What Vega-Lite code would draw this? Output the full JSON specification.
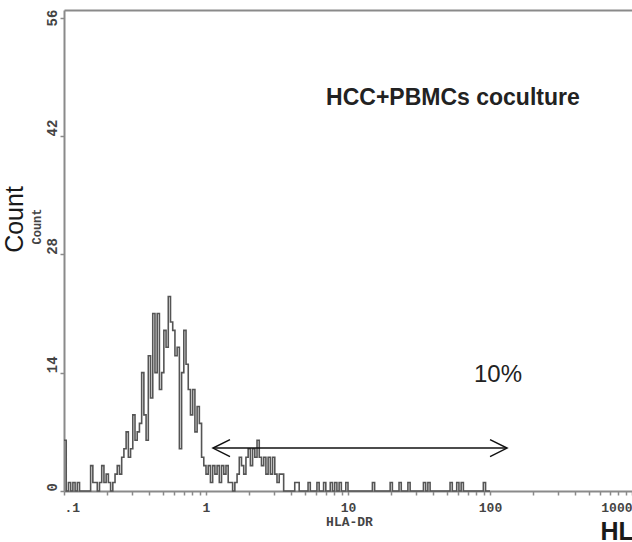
{
  "$schema": "https://vega.github.io/schema/vega-lite/v6.json",
  "width": 568,
  "height": 481,
  "autosize": {"type": "none"},
  "padding": {"left": 64, "top": 10, "right": 0, "bottom": 51},
  "background": "white",
  "config": {"view": {"stroke": null}, "axis": {"grid": false}},
  "datasets": {
    "histogram": [
      {"hla_dr": 0.1, "count": 6}, {"hla_dr": 0.10366, "count": 0}, {"hla_dr": 0.10746, "count": 1}, {"hla_dr": 0.1114, "count": 0},
      {"hla_dr": 0.11548, "count": 1}, {"hla_dr": 0.11971, "count": 0}, {"hla_dr": 0.12409, "count": 1}, {"hla_dr": 0.12864, "count": 0},
      {"hla_dr": 0.15399, "count": 3}, {"hla_dr": 0.15963, "count": 1}, {"hla_dr": 0.16548, "count": 1}, {"hla_dr": 0.17154, "count": 0},
      {"hla_dr": 0.17783, "count": 1}, {"hla_dr": 0.18434, "count": 3}, {"hla_dr": 0.1911, "count": 1}, {"hla_dr": 0.1981, "count": 2},
      {"hla_dr": 0.20535, "count": 1}, {"hla_dr": 0.21288, "count": 0}, {"hla_dr": 0.22067, "count": 1}, {"hla_dr": 0.22876, "count": 2},
      {"hla_dr": 0.23714, "count": 3}, {"hla_dr": 0.24582, "count": 2}, {"hla_dr": 0.25483, "count": 4}, {"hla_dr": 0.26416, "count": 5},
      {"hla_dr": 0.27384, "count": 7}, {"hla_dr": 0.28387, "count": 4}, {"hla_dr": 0.29427, "count": 5}, {"hla_dr": 0.30505, "count": 9},
      {"hla_dr": 0.31623, "count": 6}, {"hla_dr": 0.32781, "count": 7}, {"hla_dr": 0.33982, "count": 8}, {"hla_dr": 0.35227, "count": 14},
      {"hla_dr": 0.36517, "count": 9}, {"hla_dr": 0.37855, "count": 6}, {"hla_dr": 0.39242, "count": 16}, {"hla_dr": 0.40679, "count": 11},
      {"hla_dr": 0.4217, "count": 21}, {"hla_dr": 0.43714, "count": 14}, {"hla_dr": 0.45316, "count": 21}, {"hla_dr": 0.46976, "count": 12},
      {"hla_dr": 0.48697, "count": 14}, {"hla_dr": 0.50481, "count": 19}, {"hla_dr": 0.5233, "count": 17}, {"hla_dr": 0.54247, "count": 23},
      {"hla_dr": 0.56234, "count": 20}, {"hla_dr": 0.58294, "count": 19}, {"hla_dr": 0.6043, "count": 16}, {"hla_dr": 0.62643, "count": 17},
      {"hla_dr": 0.64938, "count": 5}, {"hla_dr": 0.67317, "count": 14}, {"hla_dr": 0.69783, "count": 19}, {"hla_dr": 0.72339, "count": 15},
      {"hla_dr": 0.74989, "count": 12}, {"hla_dr": 0.77736, "count": 9}, {"hla_dr": 0.80584, "count": 12}, {"hla_dr": 0.83536, "count": 7},
      {"hla_dr": 0.86596, "count": 10}, {"hla_dr": 0.89768, "count": 8}, {"hla_dr": 0.93057, "count": 4}, {"hla_dr": 0.96466, "count": 3},
      {"hla_dr": 1.0, "count": 2}, {"hla_dr": 1.0366, "count": 3}, {"hla_dr": 1.0746, "count": 1}, {"hla_dr": 1.114, "count": 3},
      {"hla_dr": 1.1548, "count": 2}, {"hla_dr": 1.1971, "count": 3}, {"hla_dr": 1.2409, "count": 1}, {"hla_dr": 1.2864, "count": 3},
      {"hla_dr": 1.3335, "count": 2}, {"hla_dr": 1.3824, "count": 3}, {"hla_dr": 1.433, "count": 1}, {"hla_dr": 1.4855, "count": 1},
      {"hla_dr": 1.5399, "count": 0}, {"hla_dr": 1.5963, "count": 1}, {"hla_dr": 1.6548, "count": 2}, {"hla_dr": 1.7154, "count": 4},
      {"hla_dr": 1.7783, "count": 3}, {"hla_dr": 1.8434, "count": 2}, {"hla_dr": 1.911, "count": 4}, {"hla_dr": 1.981, "count": 5},
      {"hla_dr": 2.0535, "count": 3}, {"hla_dr": 2.1288, "count": 5}, {"hla_dr": 2.2067, "count": 4}, {"hla_dr": 2.2876, "count": 6},
      {"hla_dr": 2.3714, "count": 4}, {"hla_dr": 2.4582, "count": 3}, {"hla_dr": 2.5483, "count": 4}, {"hla_dr": 2.6416, "count": 2},
      {"hla_dr": 2.7384, "count": 4}, {"hla_dr": 2.8387, "count": 2}, {"hla_dr": 2.9427, "count": 4}, {"hla_dr": 3.0505, "count": 2},
      {"hla_dr": 3.1623, "count": 1}, {"hla_dr": 3.2781, "count": 2}, {"hla_dr": 3.3982, "count": 2}, {"hla_dr": 3.5227, "count": 0},
      {"hla_dr": 4.217, "count": 1}, {"hla_dr": 4.3714, "count": 1}, {"hla_dr": 4.5316, "count": 0},
      {"hla_dr": 5.233, "count": 1}, {"hla_dr": 5.4247, "count": 0}, {"hla_dr": 6.043, "count": 1}, {"hla_dr": 6.2643, "count": 0},
      {"hla_dr": 6.7317, "count": 1}, {"hla_dr": 6.9783, "count": 0}, {"hla_dr": 7.4989, "count": 1}, {"hla_dr": 7.7736, "count": 0},
      {"hla_dr": 8.0584, "count": 1}, {"hla_dr": 8.3536, "count": 0}, {"hla_dr": 8.6596, "count": 1}, {"hla_dr": 8.9768, "count": 0},
      {"hla_dr": 9.6466, "count": 1}, {"hla_dr": 10, "count": 0}, {"hla_dr": 14.855, "count": 1}, {"hla_dr": 15.399, "count": 0},
      {"hla_dr": 19.81, "count": 1}, {"hla_dr": 20.535, "count": 0}, {"hla_dr": 22.876, "count": 1}, {"hla_dr": 23.714, "count": 0},
      {"hla_dr": 26.416, "count": 1}, {"hla_dr": 27.384, "count": 0}, {"hla_dr": 33.982, "count": 1}, {"hla_dr": 35.227, "count": 0},
      {"hla_dr": 36.517, "count": 1}, {"hla_dr": 37.855, "count": 0}, {"hla_dr": 52.33, "count": 1}, {"hla_dr": 54.247, "count": 0},
      {"hla_dr": 58.294, "count": 1}, {"hla_dr": 60.43, "count": 0}, {"hla_dr": 62.643, "count": 1}, {"hla_dr": 64.938, "count": 0},
      {"hla_dr": 89.768, "count": 1}, {"hla_dr": 93.057, "count": 0}, {"hla_dr": 100, "count": 0}
    ],
    "gate": [{"from": 1.12, "to": 131.8, "level": 5.08}],
    "gate_ends": [{"end": "left", "hla_dr": 1.12, "level": 5.08}, {"end": "right", "hla_dr": 131.8, "level": 5.08}],
    "notes": [
      {"note": "HCC+PBMCs coculture", "kind": "sample", "hla_dr": 54.8, "count": 45.7},
      {"note": "10%", "kind": "percent", "hla_dr": 113.8, "count": 12.9}
    ]
  },
  "layer": [
    {
      "data": {"name": "histogram"},
      "mark": {"type": "line", "interpolate": "step-after", "color": "#555555", "strokeWidth": 1.6},
      "encoding": {
        "x": {
          "field": "hla_dr", "type": "quantitative",
          "scale": {"type": "log", "domain": [0.1, 1000], "nice": false},
          "axis": {
            "orient": "bottom",
            "title": "HLA-DR",
            "values": [0.1, 0.2, 0.3, 0.4, 0.5, 0.6, 0.7, 0.8, 0.9, 1, 2, 3, 4, 5, 6, 7, 8, 9, 10, 20, 30, 40, 50, 60, 70, 80, 90, 100, 200, 300, 400, 500, 600, 700, 800, 900, 1000],
            "labelExpr": "datum.value == 0.1 ? '.1' : (datum.value == 1 || datum.value == 10 || datum.value == 100 || datum.value == 1000) ? datum.value + '' : ''",
            "labelOverlap": false,
            "labelFlush": true,
            "labelBound": false,
            "labelFont": "Liberation Mono",
            "labelFontWeight": "bold",
            "labelFontSize": 13,
            "labelColor": "#444444",
            "labelPadding": 6,
            "tickSize": 4,
            "tickWidth": 1.5,
            "tickColor": "#8a8a8a",
            "domainColor": "#8a8a8a",
            "domainWidth": 2,
            "titleX": 285,
            "titleY": 34,
            "titleAlign": "center",
            "titleBaseline": "alphabetic",
            "titleFont": "Liberation Mono",
            "titleFontWeight": "bold",
            "titleFontSize": 13,
            "titleColor": "#444444"
          }
        },
        "y": {
          "field": "count", "type": "quantitative",
          "scale": {"domain": [0, 56.9], "nice": false},
          "axis": {
            "orient": "left",
            "title": "Count",
            "values": [0, 14, 28, 42, 56],
            "labelAngle": 270,
            "labelBaseline": "bottom",
            "labelAlign": {"condition": {"test": "datum.value == 56", "value": "center"}, "value": "left"},
            "labelPadding": 1,
            "labelFont": "Liberation Mono",
            "labelFontWeight": "bold",
            "labelFontSize": 14,
            "labelColor": "#444444",
            "tickSize": 4,
            "tickWidth": 1.5,
            "tickColor": "#8a8a8a",
            "domainColor": "#8a8a8a",
            "domainWidth": 2,
            "titleX": -28,
            "titleY": 216,
            "titleAngle": 270,
            "titleAlign": "center",
            "titleBaseline": "middle",
            "titleFont": "Liberation Mono",
            "titleFontWeight": "bold",
            "titleFontSize": 12,
            "titleColor": "#444444"
          }
        }
      }
    },
    {
      "data": {"name": "gate"},
      "mark": {"type": "rule", "color": "#111111", "strokeWidth": 1.5},
      "encoding": {
        "x": {"field": "from", "type": "quantitative", "axis": null},
        "x2": {"field": "to"},
        "y": {"field": "level", "type": "quantitative", "axis": null}
      }
    },
    {
      "data": {"name": "gate_ends"},
      "mark": {"type": "point", "filled": false, "stroke": "#111111", "strokeWidth": 1.5, "size": 289, "opacity": 1},
      "encoding": {
        "x": {"field": "hla_dr", "type": "quantitative", "axis": null},
        "y": {"field": "level", "type": "quantitative", "axis": null},
        "shape": {"field": "end", "type": "nominal", "scale": {"domain": ["left", "right"], "range": ["M2,-1L0,0L2,1", "M-2,-1L0,0L-2,1"]}, "legend": null}
      }
    },
    {
      "data": {"name": "notes"},
      "transform": [{"filter": "datum.kind == 'sample'"}],
      "mark": {"type": "text", "font": "Liberation Sans", "fontWeight": "bold", "fontSize": 23, "color": "#222222", "align": "center", "baseline": "alphabetic"},
      "encoding": {
        "x": {
          "field": "hla_dr", "type": "quantitative",
          "axis": {
            "orient": "top", "title": "HLA-DR", "domain": true, "domainColor": "#8a8a8a", "domainWidth": 2,
            "ticks": false, "labels": false,
            "titleX": 536, "titleY": 529, "titleAlign": "left", "titleBaseline": "alphabetic", "titleAngle": 0,
            "titleFont": "Liberation Sans", "titleFontSize": 25, "titleFontWeight": "bold", "titleColor": "#1a1a1a"
          }
        },
        "y": {
          "field": "count", "type": "quantitative",
          "axis": {
            "orient": "right", "title": "Count", "domain": false, "ticks": false, "labels": false,
            "titleX": -618, "titleY": 209, "titleAngle": 270, "titleAlign": "center", "titleBaseline": "middle",
            "titleFont": "Liberation Sans", "titleFontSize": 25, "titleFontWeight": "normal", "titleColor": "#1a1a1a"
          }
        },
        "text": {"field": "note"}
      }
    },
    {
      "data": {"name": "notes"},
      "transform": [{"filter": "datum.kind == 'percent'"}],
      "mark": {"type": "text", "font": "Liberation Sans", "fontSize": 24, "color": "#222222", "align": "center", "baseline": "alphabetic"},
      "encoding": {
        "x": {"field": "hla_dr", "type": "quantitative", "axis": null},
        "y": {"field": "count", "type": "quantitative", "axis": null},
        "text": {"field": "note"}
      }
    }
  ],
  "resolve": {"axis": {"x": "independent", "y": "independent"}}
}
